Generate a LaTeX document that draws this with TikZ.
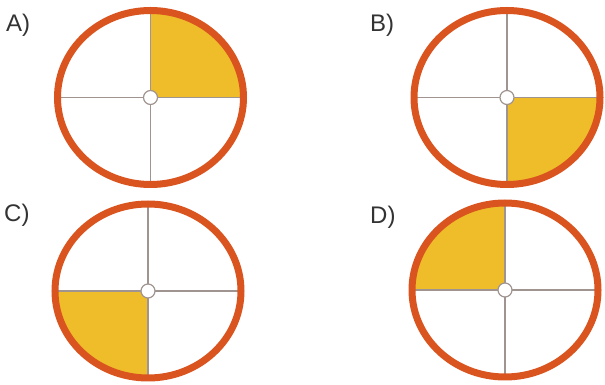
\documentclass[tikz,border=0pt]{standalone}
\usepackage{fontspec}
\setmainfont{Liberation Sans}
\definecolor{ringc}{HTML}{D9541E}
\definecolor{fillc}{HTML}{EFBC2A}
\definecolor{crossc}{HTML}{A09490}
\definecolor{labc}{HTML}{333333}
\tikzset{
  ringline/.style={draw=ringc,line width=7pt},
  crossline/.style={draw=crossc,line width=1.2pt},
  hub/.style={circle,draw=crossc,fill=white,line width=1.2pt,minimum size=14pt,inner sep=0pt},
  lab/.style={anchor=base west,font=\fontsize{24}{24}\selectfont,text=labc,inner sep=0pt},
}
\newcommand{\wheel}[4]{% name, x, y, start angle of filled quadrant
  \coordinate (#1) at (#2,#3);
  \fill[fillc] (#1) -- ++(#4:93pt and 87pt) arc[start angle=#4,end angle=#4+90,x radius=93pt,y radius=87pt] -- cycle;
  \draw[crossline] ($(#1)+(-93pt,0)$) -- ($(#1)+(93pt,0)$);
  \draw[crossline] ($(#1)+(0,-87pt)$) -- ($(#1)+(0,87pt)$);
  \draw[ringline] (#1) ellipse[x radius=93pt,y radius=87pt];
  \node[hub] (#1hub) at (#1) {};
}
\usetikzlibrary{calc}
\begin{document}
\begin{tikzpicture}[x=1pt,y=1pt]
\useasboundingbox (0,0) rectangle (605,385);
\wheel{wa}{150.5}{287.5}{0}
\wheel{wb}{507}{287.5}{270}
\wheel{wc}{148}{94}{180}
\wheel{wd}{505}{95}{90}
\node[lab] (la) at (6,353) {A)};
\node[lab] (lb) at (370,353) {B)};
\node[lab] (lc) at (4,163) {C)};
\node[lab] (ld) at (370,161) {D)};
\end{tikzpicture}
\end{document}
